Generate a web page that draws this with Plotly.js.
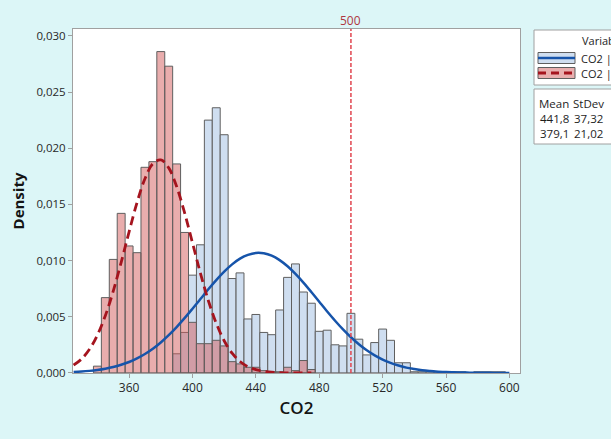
<!DOCTYPE html>
<html><head><meta charset="utf-8">
<script src="https://cdn.plot.ly/plotly-3.0.1.min.js"></script>
<style>html,body{margin:0;padding:0;background:#dcf6f7}</style>
</head><body><div id="chart" style="width:611px;height:439px"></div>
<script>
// Histogram bins (centres, width 5)
const binCenters = [340,345,350,355,360,365,370,375,380,385,390,395,400,405,410,415,420,425,430,435,440,445,450,455,460,465,470,475,480,485,490,495,500,505,510,515,520,525,530,535,540,545,550,555,560,565,570,575,580,585,590,595];
const blueDensity = [null,null,null,null,null,null,null,null,null,null,
  0.0017,0.0036,0.0087,0.0114,0.0225,0.0236,0.0212,0.0084,0.0089,0.0048,
  0.0052,0.0036,0.0034,0.0056,0.0085,0.0097,0.0072,0.0062,0.0037,0.0038,
  0.0025,0.0024,0.0053,0.0030,0.0016,0.0027,0.0039,0.0029,0.0009,0.0009,
  0.0001,0.0001,0.0001,0.0001,0.0001,0.0001,0.0001,null,0.0001,0.0001,0.0001,0.0001];
const redDensity = [0.0006,0.0067,0.0101,0.0142,0.0113,0.0107,0.0183,0.0188,0.0286,0.0273,
  0.0186,0.0125,0.0045,0.0026,0.0026,0.0029,0.0024,0.0010,0.0008,0.0005,
  0.0005,0.0002,0.0001,0.0001,0.0005,0.0002,0.0011,0.0003,
  null,null,null,null,null,null,null,null,null,null,null,null,null,null,null,null,null,null,null,null,null,null,null,null];

// Fitted normal curves
const redCurveX = [325,330,335,340,345,350,355,360,365,370,375,380,385,390,395,400,405,410,415,420,425,430,435,440,445,450,455,460,465,470,475];
const redCurveY = [0.00069,0.00124,0.00210,0.00337,0.00509,0.00728,0.00984,0.01256,0.01516,0.01728,0.01862,0.01896,0.01825,0.01659,0.01426,0.01158,0.00888,0.00644,0.00442,0.00286,0.00175,0.00101,0.00055,0.00029,0.00014,0.00006,0.00003,0.00001,0.00001,0,0];
const blueCurveX = [325,330,335,340,345,350,355,360,365,370,375,380,385,390,395,400,405,410,415,420,425,430,435,440,445,450,455,460,465,470,475,480,485,490,495,500,505,510,515,520,525,530,535,540,545,550,555,560,565,570,575,580,585,590,595,600];
const blueCurveY = [0.00008,0.00012,0.00018,0.00026,0.00037,0.00052,0.00072,0.00097,0.00129,0.00168,0.00215,0.00271,0.00336,0.00408,0.00487,0.00571,0.00657,0.00744,0.00826,0.00901,0.00966,0.01017,0.01051,0.01068,0.01065,0.01044,0.01004,0.00949,0.00881,0.00804,0.00720,0.00633,0.00547,0.00464,0.00387,0.00317,0.00255,0.00201,0.00156,0.00119,0.00089,0.00066,0.00047,0.00034,0.00023,0.00016,0.00011,0.00007,0.00005,0.00003,0.00002,0.00001,0.00001,0,0,0];

const refLine = 500;
const xTicks = [360,400,440,480,520,560,600];
const yTicks = [0,0.005,0.010,0.015,0.020,0.025,0.030];
const statsHeader = ["Mean","StDev"];
const statsMean = ["441,8","379,1"];
const statsSd = ["37,32","21,02"];
const legendTitle = "Variable";
const legendLabels = ["CO2 |","CO2 |"];

const barLine = {color:'rgb(95,95,95)', width:1};
const traces = [
  {type:'bar', x:binCenters, y:blueDensity, width:5, marker:{color:'rgb(207,222,240)', line:barLine}, hoverinfo:'x+y'},
  {type:'bar', x:binCenters, y:redDensity, width:5, marker:{color:'rgba(212,92,92,0.5)', line:barLine}, hoverinfo:'x+y'},
  {type:'scatter', mode:'lines', x:blueCurveX, y:blueCurveY, line:{color:'rgb(22,84,170)', width:2.5, shape:'spline'}},
  {type:'scatter', mode:'lines', x:redCurveX, y:redCurveY, line:{color:'rgb(165,20,30)', width:2.8, dash:'9px,5px', shape:'spline'}}
];

const fam = 'Open Sans, Noto Sans, sans-serif';
const gray = 'rgb(160,160,160)';
// plot area: x 73..520, y 29..373
const px = v => (v-73)/447, py = v => (373-v)/344;
const shapes = [
  {type:'line', xref:'x', yref:'paper', x0:refLine, x1:refLine, y0:0, y1:1, line:{color:'rgb(225,70,80)', width:1.5, dash:'4px,2px'}},
  {type:'rect', xref:'paper', yref:'paper', x0:px(534), x1:px(640), y0:py(85), y1:py(30), fillcolor:'white', line:{color:gray, width:1}},
  {type:'rect', xref:'paper', yref:'paper', x0:px(534), x1:px(640), y0:py(144), y1:py(89), fillcolor:'white', line:{color:gray, width:1}},
  {type:'rect', xref:'paper', yref:'paper', x0:px(538), x1:px(575), y0:py(63.5), y1:py(52.5), fillcolor:'rgb(207,222,240)', line:{color:'rgb(95,95,95)', width:1}},
  {type:'line', xref:'paper', yref:'paper', x0:px(538), x1:px(575), y0:py(58), y1:py(58), line:{color:'rgb(22,84,170)', width:2.5}},
  {type:'rect', xref:'paper', yref:'paper', x0:px(538), x1:px(575), y0:py(78.5), y1:py(67.5), fillcolor:'rgb(232,175,175)', line:{color:'rgb(95,95,95)', width:1}},
  {type:'line', xref:'paper', yref:'paper', x0:px(538), x1:px(575), y0:py(73), y1:py(73), line:{color:'rgb(165,20,30)', width:2.8, dash:'8px,5px'}}
];
const txt = (t,x,y,size) => ({text:t, xref:'paper', yref:'paper', x:px(x), y:py(y), xanchor:'left', yanchor:'middle', showarrow:false, font:{family:fam, size:size, color:'rgb(30,30,30)'}});
const annotations = [
  {text:String(refLine), xref:'x', yref:'paper', x:refLine, y:1, yanchor:'bottom', yshift:-2, showarrow:false, font:{family:fam, size:12, color:'rgb(175,55,65)'}},
  txt(legendTitle,580,41,11),
  txt(legendLabels[0],579,58,11),
  txt(legendLabels[1],579,73,11),
  txt(statsHeader[0],537,103,11.5),
  txt(statsHeader[1],571,103,11.5),
  txt(statsMean[0],538,118,11.5),
  txt(statsSd[0],572,118,11.5),
  txt(statsMean[1],538,133,11.5),
  txt(statsSd[1],572,133,11.5)
];

const layout = {
  width:611, height:439,
  margin:{l:73, r:91, t:29, b:66},
  paper_bgcolor:'#dcf6f7', plot_bgcolor:'white',
  barmode:'overlay', bargap:0, showlegend:false,
  separators:',.',
  font:{family:fam, size:12, color:'rgb(40,40,40)'},
  xaxis:{range:[324.6,606.7], tickvals:xTicks, ticks:'outside', ticklen:4, tickcolor:gray,
    showline:true, mirror:true, linecolor:gray, linewidth:1, showgrid:false, zeroline:false,
    tickfont:{size:12, color:'rgb(40,40,40)'},
    title:{text:'CO2', standoff:6, font:{size:17, weight:600, color:'rgb(20,20,20)'}}},
  yaxis:{range:[-0.00001,0.03061], tickvals:yTicks, tickformat:'.3f', ticks:'outside', ticklen:4, tickcolor:gray,
    showline:true, mirror:true, linecolor:gray, linewidth:1, showgrid:false, zeroline:false,
    tickfont:{size:11.5, color:'rgb(40,40,40)'},
    title:{text:'Density', standoff:8, font:{size:15, weight:700, color:'rgb(20,20,20)'}}},
  shapes:shapes, annotations:annotations
};
Plotly.newPlot('chart', traces, layout, {displayModeBar:false, staticPlot:true});
</script></body></html>
